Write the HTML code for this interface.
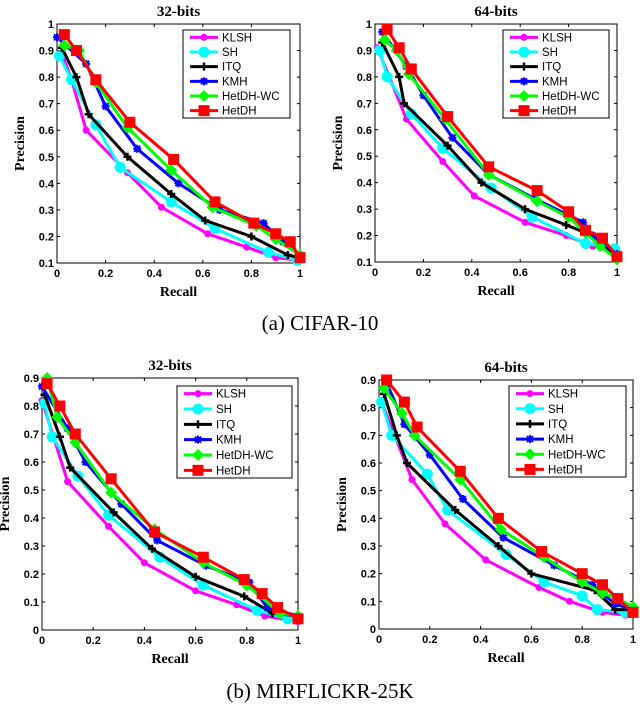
<!DOCTYPE html>
<html><head><meta charset="utf-8"><style>
body{margin:0;background:#fff;}
svg{display:block;}
</style></head><body>
<svg id="fig" width="640" height="706" viewBox="0 0 640 706" xmlns="http://www.w3.org/2000/svg">
<text x="320" y="330" text-anchor="middle" font-family="Liberation Serif, serif" font-size="21">(a) CIFAR-10</text>
<text x="320" y="698" text-anchor="middle" font-family="Liberation Serif, serif" font-size="21">(b) MIRFLICKR-25K</text>
</svg>
<script>
const seriesNames = ["KLSH","SH","ITQ","KMH","HetDH-WC","HetDH"];
// CIFAR-10 32 bits
const c32_KLSH_r=[0.02,0.06,0.12,0.29,0.43,0.62,0.78,0.9,1], c32_KLSH_p=[0.89,0.79,0.60,0.44,0.31,0.21,0.16,0.12,0.11];
const c32_SH_r=[0.01,0.06,0.16,0.26,0.47,0.65,0.87,0.99], c32_SH_p=[0.88,0.79,0.62,0.46,0.33,0.23,0.14,0.11];
const c32_ITQ_r=[0.02,0.08,0.13,0.29,0.47,0.61,0.8,0.95,1], c32_ITQ_p=[0.91,0.80,0.66,0.50,0.36,0.26,0.20,0.13,0.12];
const c32_KMH_r=[0.0,0.12,0.2,0.33,0.5,0.67,0.85,0.93,1], c32_KMH_p=[0.95,0.85,0.69,0.53,0.40,0.30,0.25,0.18,0.13];
const c32_WC_r=[0.03,0.09,0.16,0.29,0.47,0.64,0.82,0.9,1], c32_WC_p=[0.92,0.90,0.78,0.61,0.45,0.31,0.24,0.19,0.13];
const c32_H_r=[0.03,0.08,0.16,0.3,0.48,0.65,0.81,0.9,0.96,1], c32_H_p=[0.96,0.90,0.79,0.63,0.49,0.33,0.25,0.21,0.18,0.12];
// CIFAR-10 64 bits
const c64_KLSH_r=[0.01,0.13,0.28,0.41,0.62,0.79,0.9,1], c64_KLSH_p=[0.91,0.64,0.48,0.35,0.25,0.20,0.16,0.14];
const c64_SH_r=[0.02,0.05,0.15,0.28,0.48,0.65,0.87,0.99], c64_SH_p=[0.90,0.80,0.66,0.53,0.38,0.27,0.17,0.15];
const c64_ITQ_r=[0.03,0.1,0.12,0.3,0.44,0.62,0.79,0.9,1], c64_ITQ_p=[0.93,0.80,0.70,0.54,0.40,0.30,0.24,0.20,0.12];
const c64_KMH_r=[0.03,0.13,0.2,0.32,0.47,0.66,0.86,0.9,1], c64_KMH_p=[0.97,0.84,0.73,0.57,0.43,0.34,0.25,0.20,0.13];
const c64_WC_r=[0.04,0.09,0.14,0.29,0.47,0.67,0.8,0.87,0.93,1], c64_WC_p=[0.94,0.90,0.81,0.64,0.43,0.33,0.27,0.21,0.16,0.11];
const c64_H_r=[0.05,0.1,0.15,0.3,0.47,0.67,0.8,0.87,0.94,1], c64_H_p=[0.98,0.91,0.83,0.65,0.46,0.37,0.29,0.22,0.19,0.12];
// MIRFLICKR 32 bits
const m32_KLSH_r=[0.0,0.1,0.26,0.4,0.6,0.76,0.87,1], m32_KLSH_p=[0.82,0.53,0.37,0.24,0.14,0.09,0.05,0.03];
const m32_SH_r=[0.01,0.04,0.14,0.26,0.46,0.63,0.84,0.96], m32_SH_p=[0.81,0.69,0.55,0.41,0.26,0.16,0.07,0.04];
const m32_ITQ_r=[0.01,0.07,0.11,0.28,0.43,0.6,0.79,0.9,1], m32_ITQ_p=[0.84,0.69,0.58,0.42,0.29,0.19,0.12,0.06,0.05];
const m32_KMH_r=[0.0,0.1,0.17,0.31,0.45,0.64,0.81,0.88,1], m32_KMH_p=[0.87,0.72,0.60,0.45,0.32,0.23,0.17,0.08,0.05];
const m32_WC_r=[0.02,0.06,0.13,0.27,0.44,0.63,0.8,0.93,1], m32_WC_p=[0.90,0.76,0.67,0.49,0.36,0.24,0.16,0.06,0.05];
const m32_H_r=[0.02,0.07,0.13,0.27,0.44,0.63,0.79,0.86,0.92,1], m32_H_p=[0.88,0.80,0.70,0.54,0.35,0.26,0.18,0.13,0.08,0.04];
// MIRFLICKR 64 bits
const m64_KLSH_r=[0.01,0.13,0.26,0.42,0.63,0.75,0.88,0.97], m64_KLSH_p=[0.82,0.54,0.38,0.25,0.15,0.10,0.06,0.05];
const m64_SH_r=[0.01,0.05,0.19,0.27,0.5,0.65,0.8,0.86,0.97], m64_SH_p=[0.82,0.70,0.56,0.43,0.27,0.17,0.12,0.07,0.06];
const m64_ITQ_r=[0.02,0.07,0.11,0.3,0.47,0.6,0.85,0.93,1], m64_ITQ_p=[0.85,0.70,0.60,0.43,0.30,0.20,0.14,0.07,0.07];
const m64_KMH_r=[0.03,0.1,0.2,0.33,0.49,0.69,0.84,0.93,1], m64_KMH_p=[0.89,0.74,0.63,0.47,0.33,0.23,0.16,0.09,0.07];
const m64_WC_r=[0.02,0.09,0.14,0.32,0.48,0.65,0.8,0.88,0.94,1], m64_WC_p=[0.87,0.78,0.70,0.54,0.36,0.26,0.17,0.13,0.11,0.08];
const m64_H_r=[0.03,0.1,0.15,0.32,0.47,0.64,0.8,0.88,0.94,1], m64_H_p=[0.90,0.82,0.73,0.57,0.40,0.28,0.20,0.16,0.11,0.06];

const xTicks=[0,0.2,0.4,0.6,0.8,1], xTickLabels=["0","0.2","0.4","0.6","0.8","1"];
const yTicksC=[0.1,0.2,0.3,0.4,0.5,0.6,0.7,0.8,0.9,1], yTickLabelsC=["0.1","0.2","0.3","0.4","0.5","0.6","0.7","0.8","0.9","1"];
const yTicksM=[0,0.1,0.2,0.3,0.4,0.5,0.6,0.7,0.8,0.9], yTickLabelsM=["0","0.1","0.2","0.3","0.4","0.5","0.6","0.7","0.8","0.9"];

const colors=["#ff00ff","#00ffff","#000000","#0000ff","#00ff00","#ff0000"];
const markers=["dot","bigdot","plus","star","diamond","square"];
const NS="http://www.w3.org/2000/svg";
const svg=document.getElementById('fig');
function el(t,a,p){const e=document.createElementNS(NS,t);for(const k in a)e.setAttribute(k,a[k]);(p||svg).appendChild(e);return e;}

function marker(g,k,x,y,c){
  let m;
  if(k==="dot")m=el('circle',{cx:x,cy:y,r:3.5,fill:c},g);
  else if(k==="bigdot")m=el('circle',{cx:x,cy:y,r:5.5,fill:c},g);
  else if(k==="plus"){m=el('path',{d:`M${x-4},${y}H${x+4}M${x},${y-4}V${y+4}`,stroke:c,'stroke-width':2.5},g);}
  else if(k==="star"){m=el('path',{d:`M${x-4},${y}H${x+4}M${x},${y-4}V${y+4}M${x-3},${y-3}L${x+3},${y+3}M${x-3},${y+3}L${x+3},${y-3}`,stroke:c,'stroke-width':2},g);}
  else if(k==="diamond")m=el('path',{d:`M${x},${y-6}L${x+6},${y}L${x},${y+6}L${x-6},${y}Z`,fill:c},g);
  else m=el('rect',{x:x-5.5,y:y-5.5,width:11,height:11,fill:c},g);
  
  
}

function plot(cfg){
  const {x0,x1,y0,y1,ymin,ymax,yt,ytl,title,series,legend,name}=cfg;
  const g=el('g',{});
  
  
  const sx=v=>x0+(x1-x0)*v, sy=v=>y1-(y1-y0)*(v-ymin)/(ymax-ymin);
  const t=el('text',{x:(x0+x1)/2,y:y0-8,'text-anchor':'middle','font-family':'Liberation Serif, serif','font-weight':'bold','font-size':15},g);
  t.textContent=title;
  
  
  const fr=el('rect',{x:x0,y:y0,width:x1-x0,height:y1-y0,fill:'#fff',stroke:'#000','stroke-width':1},g);
  
  
  xTicks.forEach((v,i)=>{
    const X=sx(v);
    el('path',{d:`M${X},${y1}v-3M${X},${y0}v3`,stroke:'#000'},g);
    const l=el('text',{x:X,y:y1+14,'text-anchor':'middle','font-family':'Liberation Sans, sans-serif','font-weight':'bold','font-size':11},g);
    l.textContent=xTickLabels[i];
    
    
  });
  yt.forEach((v,i)=>{
    const Y=sy(v);
    el('path',{d:`M${x0},${Y}h3M${x1},${Y}h-3`,stroke:'#000'},g);
    const l=el('text',{x:x0-3,y:Y+4,'text-anchor':'end','font-family':'Liberation Sans, sans-serif','font-weight':'bold','font-size':11},g);
    l.textContent=ytl[i];
    
    
  });
  const xl=el('text',{x:(x0+x1)/2,y:y1+33,'text-anchor':'middle','font-family':'Liberation Serif, serif','font-weight':'bold','font-size':14},g);
  xl.textContent='Recall';
  
  
  const yx=x0-33, yy=(y0+y1)/2;
  const yl=el('text',{x:yx,y:yy,'text-anchor':'middle','font-family':'Liberation Serif, serif','font-weight':'bold','font-size':14,transform:`rotate(-90 ${yx} ${yy})`},g);
  yl.textContent='Precision';
  
  
  series.forEach((s,i)=>{
    const sg=el('g',{},g);
    
    
    const pts=s[0].map((r,j)=>sx(r)+','+sy(s[1][j])).join(' ');
    el('polyline',{points:pts,fill:'none',stroke:colors[i],'stroke-width':3,'stroke-linejoin':'round'},sg);
    s[0].forEach((r,j)=>marker(sg,markers[i],sx(r),sy(s[1][j]),colors[i]));
  });
  const [lx0,ly0,lx1,ly1]=legend;
  const lg=el('g',{},g);
  
  
  el('rect',{x:lx0,y:ly0,width:lx1-lx0,height:ly1-ly0,fill:'#fff',stroke:'#000'},lg);
  const dh=(ly1-ly0)/6;
  seriesNames.forEach((n,i)=>{
    const Y=ly0+dh*(i+0.5);
    const eg=el('g',{},lg);
    
    
    el('line',{x1:lx0+7,x2:lx0+35,y1:Y,y2:Y,stroke:colors[i],'stroke-width':3},eg);
    marker(eg,markers[i],lx0+21,Y,colors[i]);
    const tt=el('text',{x:lx0+39,y:Y+4,'font-family':'Liberation Sans, sans-serif','font-size':11.5},eg);
    tt.textContent=n;
  });
}

plot({name:'plot-cifar-32',x0:57,x1:300,y0:24,y1:263,ymin:0.1,ymax:1,yt:yTicksC,ytl:yTickLabelsC,title:'32-bits',legend:[183,30,290,118],
 series:[[c32_KLSH_r,c32_KLSH_p],[c32_SH_r,c32_SH_p],[c32_ITQ_r,c32_ITQ_p],[c32_KMH_r,c32_KMH_p],[c32_WC_r,c32_WC_p],[c32_H_r,c32_H_p]]});
plot({name:'plot-cifar-64',x0:375,x1:617,y0:24,y1:262,ymin:0.1,ymax:1,yt:yTicksC,ytl:yTickLabelsC,title:'64-bits',legend:[503,30,609,118],
 series:[[c64_KLSH_r,c64_KLSH_p],[c64_SH_r,c64_SH_p],[c64_ITQ_r,c64_ITQ_p],[c64_KMH_r,c64_KMH_p],[c64_WC_r,c64_WC_p],[c64_H_r,c64_H_p]]});
plot({name:'plot-mir-32',x0:42,x1:298,y0:378,y1:630,ymin:0,ymax:0.9,yt:yTicksM,ytl:yTickLabelsM,title:'32-bits',legend:[177,386,292,478],
 series:[[m32_KLSH_r,m32_KLSH_p],[m32_SH_r,m32_SH_p],[m32_ITQ_r,m32_ITQ_p],[m32_KMH_r,m32_KMH_p],[m32_WC_r,m32_WC_p],[m32_H_r,m32_H_p]]});
plot({name:'plot-mir-64',x0:379,x1:633,y0:380,y1:629,ymin:0,ymax:0.9,yt:yTicksM,ytl:yTickLabelsM,title:'64-bits',legend:[509,386,626,477],
 series:[[m64_KLSH_r,m64_KLSH_p],[m64_SH_r,m64_SH_p],[m64_ITQ_r,m64_ITQ_p],[m64_KMH_r,m64_KMH_p],[m64_WC_r,m64_WC_p],[m64_H_r,m64_H_p]]});
</script>
</body></html>
